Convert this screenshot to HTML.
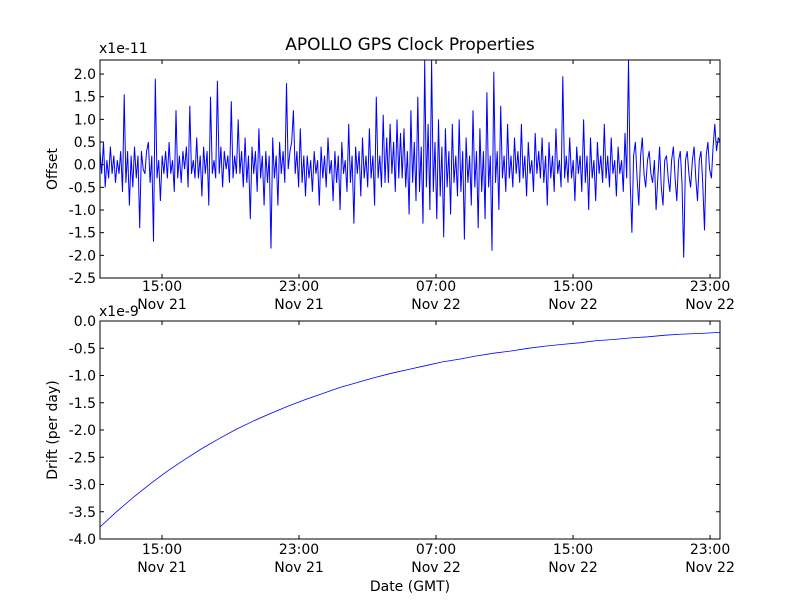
<!DOCTYPE html>
<html><head><meta charset="utf-8"><style>
body{margin:0;background:#fff}
svg text{font-family:"DejaVu Sans","Liberation Sans",sans-serif;fill:#000}
</style></head><body>
<svg id="chart" width="800" height="600" viewBox="0 0 800 600" xmlns="http://www.w3.org/2000/svg">
<rect width="800" height="600" fill="#fff"/>
<text x="410" y="50" font-size="17" text-anchor="middle">APOLLO GPS Clock Properties</text>
<g id="top"></g>
<g id="bot"></g>
<text x="99" y="53" font-size="14">x1e-11</text>
<text x="99" y="316" font-size="14">x1e-9</text>
<text transform="translate(57,169) rotate(-90)" font-size="14" text-anchor="middle">Offset</text>
<text transform="translate(57,430) rotate(-90)" font-size="14" text-anchor="middle">Drift (per day)</text>
<text x="410" y="591" font-size="14" text-anchor="middle">Date (GMT)</text>
</svg>
<script>
const tickHours=[3.62,11.62,19.62,27.62,35.62];
const tickTimes=["15:00","23:00","07:00","15:00","23:00"];
const tickDates=["Nov 21","Nov 21","Nov 22","Nov 22","Nov 22"];
const spanHours=36.2;
const offsetTicks=[2.0,1.5,1.0,0.5,0.0,-0.5,-1.0,-1.5,-2.0,-2.5];
const driftTicks=[0.0,-0.5,-1.0,-1.5,-2.0,-2.5,-3.0,-3.5,-4.0];
const offsetValues=[
0.3,-0.2,0.5,-0.5,0.1,-0.3,0.4,-0.2,0.2,-0.4,0.1,-0.2,0.3,-0.6,1.55,-0.4,0.3,-0.9,0.2,-0.5,
0.4,-0.3,0.2,-1.4,0.3,-0.1,-0.2,0.3,0.5,-0.4,0.2,-1.7,1.9,-0.3,0.1,-0.8,0.2,-0.2,0.3,-0.3,
0.5,-0.2,0.1,-0.6,1.2,-0.3,0.2,-0.4,0.3,-0.1,0.4,-0.5,1.3,-0.2,0.1,-0.3,0.6,-0.3,0.2,-0.7,
0.4,-0.2,0.3,-0.9,1.5,-0.2,0.1,-0.3,1.85,-0.2,0.4,-0.5,0.3,-0.1,0.2,-0.4,1.4,-0.3,0.2,-0.2,
1.0,-0.2,0.3,-0.5,0.6,-0.4,0.2,-1.2,0.4,-0.2,0.3,-0.6,0.8,-0.3,0.2,-0.9,0.3,-0.4,0.2,-1.85,
0.6,-0.3,0.2,-0.9,0.5,-0.2,0.3,-0.4,1.8,-0.1,0.3,0.5,1.2,-0.2,0.3,-0.5,0.8,-0.4,0.2,-0.7,
0.2,-0.3,0.1,-0.6,0.3,-0.2,0.1,-0.9,0.4,-0.3,0.2,-0.5,0.6,-0.2,0.1,-0.8,0.3,-0.4,0.2,-1.0,
0.5,-0.2,0.1,-0.6,0.9,-0.4,0.2,-1.3,0.4,-0.2,0.3,-0.7,0.6,-0.3,0.2,-0.5,0.8,-0.3,0.2,-0.9,
1.5,-0.3,0.2,-0.5,1.1,-0.4,0.6,-0.4,0.9,-0.2,0.5,-0.6,1.0,-0.3,0.7,-0.3,0.8,-0.5,0.3,-1.1,
1.2,-0.4,0.5,-0.8,1.5,-0.6,0.4,-1.3,2.3,-0.5,0.9,-1.0,2.3,-0.6,0.5,-1.2,1.0,-0.7,0.4,-1.6,
0.8,-0.5,0.3,-1.1,0.9,-0.4,0.2,-0.7,1.0,-0.6,0.3,-1.65,0.6,-0.4,0.2,-0.9,1.2,-0.5,0.3,-1.4,
0.8,-0.6,0.3,-1.2,1.6,-0.5,0.2,-1.9,2.05,-0.4,0.3,-1.0,1.3,-0.3,0.2,-0.6,0.9,-0.3,0.2,-0.5,
0.6,-0.2,0.3,-0.4,0.9,-0.3,0.2,-0.7,0.5,-0.2,0.1,-0.6,0.7,-0.2,0.3,-0.3,0.6,-0.4,0.2,-0.9,
0.5,-0.3,0.2,-0.6,0.8,-0.2,0.1,-0.5,1.95,-0.3,0.2,-0.4,0.6,-0.3,0.1,-0.8,0.4,-0.2,0.2,-0.6,
1.0,-0.4,0.2,-1.0,0.6,-0.3,0.1,-0.8,0.5,-0.2,0.2,-0.4,0.9,-0.3,0.2,-0.5,0.6,-0.2,0.1,-0.7,
0.4,-0.2,0.1,-0.6,0.7,-0.3,2.3,-0.4,-1.5,0.2,0.5,-0.3,-0.9,0.2,0.6,-0.2,-0.5,0.1,0.3,-0.2,
-0.4,0.1,-1.0,-0.3,0.4,-0.5,-0.9,0.1,0.2,-0.3,-0.6,0.1,0.4,-0.3,-0.8,0.1,0.3,-0.4,-2.05,0.1,
0.3,-0.2,-0.5,0.1,0.4,-0.3,-0.8,0.1,0.3,-0.4,-1.45,0.2,0.5,-0.1,-0.3,0.4,0.9,0.3,0.6,0.5];
const driftHours=[0,1,2,3,4,5,6,7,8,9,10,11,12,13,14,15,16,17,18,19,20,21,22,23,24,25,26,27,28,29,30,31,32,33,34,35,36.2];
const driftValues=[-3.78,-3.49,-3.22,-2.97,-2.74,-2.53,-2.33,-2.15,-1.98,-1.83,-1.69,-1.56,-1.44,-1.33,-1.22,-1.13,-1.04,-0.96,-0.89,-0.82,-0.75,-0.70,-0.64,-0.59,-0.55,-0.50,-0.46,-0.43,-0.40,-0.36,-0.34,-0.31,-0.29,-0.26,-0.24,-0.23,-0.21];

const NS="http://www.w3.org/2000/svg";
const L=100,R=720;
const xs=h=>L+(h/spanHours)*(R-L);
function mk(parent,tag,attrs){const e=document.createElementNS(NS,tag);for(const k in attrs)e.setAttribute(k,attrs[k]);parent.appendChild(e);return e;}

function axes(g,top,bot,ymin,ymax,yt,name,o1,o2){
  const ys=v=>bot-(v-ymin)/(ymax-ymin)*(bot-top);
  yt.forEach(v=>{const y=ys(v);
    const t=mk(g,'line',{x1:L,x2:L+4,y1:y,y2:y,stroke:'#000'});
    
    
    mk(g,'line',{x1:R-4,x2:R,y1:y,y2:y,stroke:'#000'});
    const tx=mk(g,'text',{x:96,y:y+5,'font-size':14,'text-anchor':'end'});tx.textContent=v.toFixed(1);
    
    
  });
  tickHours.forEach((h,i)=>{const x=xs(h);
    mk(g,'line',{x1:x,x2:x,y1:bot,y2:bot-4,stroke:'#000'});
    mk(g,'line',{x1:x,x2:x,y1:top,y2:top+4,stroke:'#000'});
    const t1=mk(g,'text',{x:x,y:bot+o1,'font-size':14,'text-anchor':'middle'});t1.textContent=tickTimes[i];
    
    
    const t2=mk(g,'text',{x:x,y:bot+o2,'font-size':14,'text-anchor':'middle'});t2.textContent=tickDates[i];
    
    
  });
  return ys;
}

const gt=document.getElementById('top');
const ysT=axes(gt,60,278,-2.5,2.31,offsetTicks,'offset',13,31);
let p=offsetValues.map((v,i)=>xs(i/(offsetValues.length-1)*spanHours).toFixed(1)+','+ysT(Math.max(-2.5,Math.min(2.31,v))).toFixed(1)).join(' ');
const l1=mk(gt,'polyline',{points:p,fill:'none',stroke:'#0000ff','stroke-width':1});


const f1=mk(gt,'rect',{x:L,y:60,width:R-L,height:218,fill:'none',stroke:'#000'});



const gb=document.getElementById('bot');
const ysB=axes(gb,321,539,-4,0,driftTicks,'drift',15,33);
p=driftValues.map((v,i)=>xs(driftHours[i]).toFixed(1)+','+ysB(v).toFixed(1)).join(' ');
const l2=mk(gb,'polyline',{points:p,fill:'none',stroke:'#0000ff','stroke-width':0.8});


const f2=mk(gb,'rect',{x:L,y:321,width:R-L,height:218,fill:'none',stroke:'#000'});


</script>
</body></html>
